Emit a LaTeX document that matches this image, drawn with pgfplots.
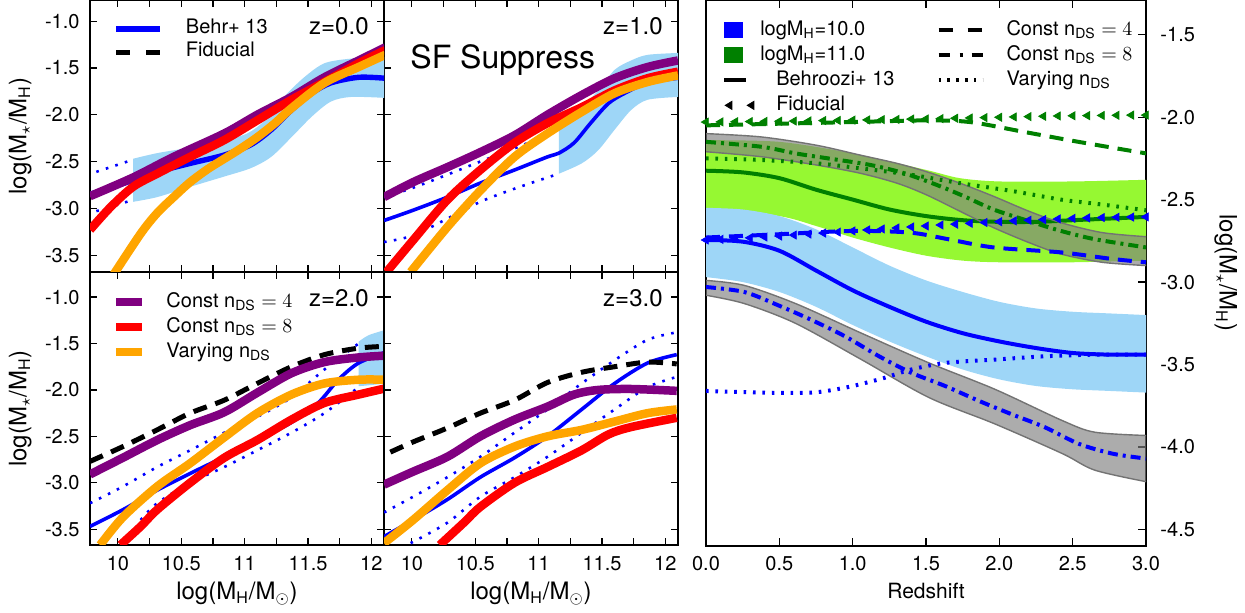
\documentclass[border=0pt]{standalone}
\usepackage{fontspec}
\setmainfont{TeX Gyre Heros}
\usepackage{pgfplots}
\pgfplotsset{compat=1.18}
\usepgfplotslibrary{fillbetween}

\definecolor{bandblue}{RGB}{158,214,247}
\definecolor{limeband}{RGB}{150,248,50}
\definecolor{mpurple}{RGB}{128,0,128}
\definecolor{morange}{RGB}{255,165,0}
\definecolor{mgreen}{RGB}{0,128,0}

\tikzset{zlab/.style={anchor=north east, inner sep=0pt, font=\fontsize{12}{14}\selectfont, xshift=-7.5pt, yshift=-8.5pt}}

\pgfplotsset{
  base/.style={scale only axis, axis line style={line width=1pt}, tick align=inside,
    tick style={black, line width=0.6pt}, major tick length=3.5pt,
    every tick label/.append style={font=\fontsize{10}{12}\selectfont},
    label style={font=\fontsize{12}{14}\selectfont}},
  lp/.style={base, width=147pt, xmin=9.78, xmax=12.1,
    xtick={10,10.25,...,12}, ytick={-3.5,-3,...,-1}, xtick pos=both, ytick pos=both,
    xticklabel style={yshift=-2.2pt}, yticklabel style={xshift=-1.7pt}},
  toprow/.style={height=136pt, ymin=-3.68, ymax=-0.774, xticklabels={}},
  botrow/.style={height=136.5pt, ymin=-3.67, ymax=-0.73,
    xticklabels={10,{},10.5,{},11,{},11.5,{},12},
    xlabel={log(M\textsubscript{H}/M$_\odot$)},
    xlabel style={at={(axis description cs:0.5,0)}, anchor=north, yshift=-18.5pt, inner sep=0pt}},
  lcol/.style={yticklabels={-3.5,-3.0,-2.5,-2.0,-1.5,-1.0},
    ylabel={log(M$_\star$/M\textsubscript{H})},
    ylabel style={at={(axis description cs:-0.197,0.5)}, anchor=south, inner sep=0pt}},
  rcol/.style={yticklabels={}},
  thick line/.style={line width=4.25pt, smooth, forget plot},
  bline/.style={blue, line width=1.8pt, smooth, forget plot},
  bdot/.style={blue, line width=1.3pt, dash pattern=on 1.3pt off 3.7pt, smooth, forget plot},
  fid/.style={black, line width=2.5pt, dash pattern=on 7pt off 4.5pt, smooth, forget plot},
  rdash/.style={line width=2pt, dash pattern=on 7pt off 4.5pt, smooth, forget plot},
  rdashdot/.style={line width=2pt, dash pattern=on 5pt off 2.5pt on 1.5pt off 2.5pt, smooth, forget plot},
  rdot/.style={line width=2pt, dash pattern=on 1.3pt off 3.4pt, smooth, forget plot},
}

\begin{document}
\begin{tikzpicture}

%%%%%%%%%%%%%%%% Panel z=0 %%%%%%%%%%%%%%%%
\begin{axis}[lp, toprow, lcol, at={(45pt,0pt)}, anchor=north west,
  legend style={at={(axis description cs:0.078,0.936)}, anchor=north west, draw=none, fill=none,
    inner sep=0pt, font=\fontsize{10}{12}\selectfont, row sep=0pt, column sep=11.5pt,
    nodes={inner sep=0pt, text height=8pt, text depth=3.5pt}},
  legend cell align=left,
  legend image code/.code={\draw[#1] (0pt,0pt) -- (22pt,0pt);}]
\addlegendimage{blue, line width=2.8pt}\addlegendentry{Behr+ 13}
\addlegendimage{black, line width=2.5pt, dash pattern=on 7pt off 8pt}\addlegendentry{Fiducial}
\addplot[name path=u0, draw=none, smooth, forget plot] coordinates {(10.12,-2.47) (10.31,-2.41) (10.57,-2.35) (10.84,-2.27) (11.02,-2.20) (11.16,-2.06) (11.31,-1.81) (11.47,-1.60) (11.63,-1.45) (11.84,-1.40) (12.11,-1.38)};
\addplot[name path=l0, draw=none, smooth, forget plot] coordinates {(10.12,-2.93) (10.31,-2.88) (10.57,-2.77) (10.84,-2.66) (11.05,-2.57) (11.21,-2.45) (11.37,-2.24) (11.53,-2.02) (11.68,-1.86) (11.84,-1.81) (12.11,-1.82)};
\addplot[bandblue, forget plot] fill between[of=u0 and l0];
\addplot[bline, line width=2.7pt] coordinates {(9.78,-2.85) (10.12,-2.70) (10.31,-2.61) (10.57,-2.52) (10.84,-2.43) (11.05,-2.32) (11.21,-2.16) (11.37,-1.95) (11.53,-1.77) (11.68,-1.66) (11.9,-1.60) (12.11,-1.61)};
\addplot[bdot] coordinates {(9.83,-2.61) (10.12,-2.48)};
\addplot[bdot] coordinates {(9.83,-3.03) (10.12,-2.91)};
\addplot[thick line, mpurple] coordinates {(9.78,-2.87) (10.12,-2.67) (10.44,-2.45) (10.84,-2.20) (11.10,-2.00) (11.37,-1.81) (11.63,-1.60) (11.90,-1.42) (12.11,-1.28)};
\addplot[thick line, red] coordinates {(9.78,-3.23) (9.94,-2.99) (10.12,-2.77) (10.31,-2.63) (10.57,-2.45) (10.84,-2.27) (11.10,-2.06) (11.37,-1.84) (11.63,-1.65) (11.90,-1.45) (12.11,-1.31)};
\addplot[thick line, morange] coordinates {(9.965,-3.71) (10.18,-3.27) (10.31,-3.05) (10.44,-2.88) (10.57,-2.72) (10.71,-2.58) (10.84,-2.47) (10.97,-2.36) (11.10,-2.24) (11.24,-2.09) (11.37,-1.93) (11.63,-1.66) (11.90,-1.49) (12.11,-1.36)};
\node[zlab] at (rel axis cs:1,1) {z=0.0};
\end{axis}

%%%%%%%%%%%%%%%% Panel z=1 %%%%%%%%%%%%%%%%
\begin{axis}[lp, toprow, rcol, at={(192pt,0pt)}, anchor=north west]
\addplot[name path=u1, draw=none, smooth, forget plot] coordinates {(11.16,-2.13) (11.34,-1.92) (11.47,-1.74) (11.6,-1.52) (11.73,-1.42) (11.86,-1.36) (12.1,-1.34)};
\addplot[name path=l1, draw=none, smooth, forget plot] coordinates {(11.16,-2.63) (11.34,-2.52) (11.47,-2.38) (11.6,-2.16) (11.73,-1.95) (11.86,-1.84) (12.1,-1.81)};
\addplot[bandblue, forget plot] fill between[of=u1 and l1];
\addplot[bline] coordinates {(9.78,-3.13) (10.01,-3.02) (10.28,-2.88) (10.54,-2.73) (10.81,-2.59) (11.07,-2.45) (11.16,-2.41) (11.28,-2.30) (11.41,-2.09) (11.55,-1.88) (11.68,-1.77) (11.86,-1.66) (12.1,-1.61)};
\addplot[bdot] coordinates {(9.78,-2.88) (10.01,-2.78) (10.28,-2.64) (10.54,-2.50) (10.81,-2.36) (11.16,-2.16)};
\addplot[bdot] coordinates {(9.78,-3.36) (10.01,-3.29) (10.28,-3.11) (10.54,-2.93) (10.81,-2.79) (11.16,-2.63)};
\addplot[thick line, mpurple] coordinates {(9.78,-2.88) (10.01,-2.72) (10.28,-2.56) (10.54,-2.40) (10.81,-2.22) (11.07,-2.0) (11.34,-1.79) (11.6,-1.61) (11.86,-1.49) (12.1,-1.42)};
\addplot[thick line, red] coordinates {(9.80,-3.68) (10.01,-3.34) (10.28,-2.91) (10.54,-2.59) (10.81,-2.30) (11.07,-2.09) (11.34,-1.92) (11.6,-1.74) (11.86,-1.61) (12.1,-1.54)};
\addplot[thick line, morange] coordinates {(9.99,-3.68) (10.28,-3.20) (10.54,-2.81) (10.81,-2.45) (11.07,-2.20) (11.34,-1.97) (11.6,-1.77) (11.86,-1.65) (12.1,-1.58)};
\node[zlab] at (rel axis cs:1,1) {z=1.0};
\node[anchor=north west, inner sep=0pt, font=\fontsize{16}{18}\selectfont, xshift=13pt, yshift=-22pt] at (rel axis cs:0,1) {SF Suppress};
\end{axis}

%%%%%%%%%%%%%%%% Panel z=2 %%%%%%%%%%%%%%%%
\begin{axis}[lp, botrow, lcol, at={(45pt,-136pt)}, anchor=north west,
  legend style={at={(axis description cs:0.075,0.937)}, anchor=north west, draw=none, fill=none,
    inner sep=0pt, font=\fontsize{10}{12}\selectfont, row sep=0pt, column sep=10pt,
    nodes={inner sep=0pt, text height=8.75pt, text depth=3.75pt}},
  legend cell align=left,
  legend image code/.code={\draw[#1] (0pt,0pt) -- (13pt,0pt);}]
\addlegendimage{mpurple, line width=4pt}\addlegendentry{Const n\textsubscript{DS} $=4$}
\addlegendimage{red, line width=4pt}\addlegendentry{Const n\textsubscript{DS} $=8$}
\addlegendimage{morange, line width=4pt}\addlegendentry{Varying n\textsubscript{DS}}
\addplot[name path=u2, draw=none, smooth, forget plot] coordinates {(11.90,-1.48) (11.98,-1.41) (12.12,-1.35)};
\addplot[name path=l2, draw=none, smooth, forget plot] coordinates {(11.90,-1.96) (11.98,-1.95) (12.12,-1.93)};
\addplot[bandblue, forget plot] fill between[of=u2 and l2];
\addplot[bline] coordinates {(9.78,-3.47) (10.04,-3.29) (10.31,-3.08) (10.57,-2.90) (10.84,-2.72) (11.10,-2.54) (11.37,-2.35) (11.58,-2.14) (11.74,-1.89) (11.90,-1.71) (12.12,-1.59)};
\addplot[bdot] coordinates {(9.78,-3.22) (10.04,-3.04) (10.31,-2.83) (10.57,-2.65) (10.84,-2.46) (11.10,-2.29) (11.37,-2.08) (11.63,-1.78) (11.90,-1.50)};
\addplot[bdot] coordinates {(10.18,-3.40) (10.31,-3.22) (10.57,-3.0) (10.84,-2.83) (11.10,-2.65) (11.37,-2.46) (11.63,-2.25) (11.90,-1.97)};
\addplot[fid] coordinates {(9.78,-2.77) (10.04,-2.61) (10.31,-2.43) (10.57,-2.25) (10.84,-2.11) (11.10,-1.93) (11.37,-1.75) (11.63,-1.62) (11.90,-1.55) (12.12,-1.53)};
\addplot[thick line, mpurple] coordinates {(9.78,-2.91) (10.04,-2.73) (10.31,-2.54) (10.57,-2.38) (10.84,-2.24) (11.10,-2.03) (11.37,-1.82) (11.63,-1.70) (11.90,-1.65) (12.12,-1.63)};
\addplot[thick line, red] coordinates {(10.02,-3.67) (10.18,-3.47) (10.31,-3.29) (10.57,-3.0) (10.84,-2.73) (11.10,-2.54) (11.37,-2.32) (11.63,-2.14) (11.90,-2.05) (12.12,-1.98)};
\addplot[thick line, morange] coordinates {(9.86,-3.67) (10.04,-3.37) (10.31,-3.04) (10.57,-2.79) (10.84,-2.51) (11.10,-2.25) (11.37,-2.05) (11.63,-1.93) (11.90,-1.89) (12.12,-1.89)};
\node[zlab] at (rel axis cs:1,1) {z=2.0};
\end{axis}

%%%%%%%%%%%%%%%% Panel z=3 %%%%%%%%%%%%%%%%
\begin{axis}[lp, botrow, rcol, at={(192pt,-136pt)}, anchor=north west]
\addplot[bline] coordinates {(9.78,-3.58) (10.01,-3.40) (10.28,-3.18) (10.54,-2.94) (10.81,-2.73) (11.07,-2.50) (11.34,-2.21) (11.6,-1.93) (11.86,-1.71) (12.09,-1.62)};
\addplot[bdot] coordinates {(9.78,-3.32) (10.01,-3.15) (10.28,-2.94) (10.54,-2.72) (10.81,-2.46) (11.07,-2.21) (11.34,-1.93) (11.6,-1.68) (11.86,-1.46) (12.09,-1.38)};
\addplot[bdot] coordinates {(9.99,-3.65) (10.28,-3.43) (10.54,-3.15) (10.81,-2.94) (11.07,-2.72) (11.34,-2.46) (11.6,-2.21) (11.86,-1.97) (12.09,-1.86)};
\addplot[fid] coordinates {(9.83,-2.67) (10.01,-2.56) (10.28,-2.41) (10.54,-2.25) (10.81,-2.11) (11.07,-1.92) (11.34,-1.81) (11.6,-1.75) (11.86,-1.70) (12.09,-1.72)};
\addplot[thick line, mpurple] coordinates {(9.78,-3.02) (10.01,-2.88) (10.28,-2.72) (10.54,-2.50) (10.81,-2.32) (11.07,-2.18) (11.28,-2.05) (11.47,-2.0) (11.73,-1.99) (12.09,-2.01)};
\addplot[thick line, red] coordinates {(10.22,-3.67) (10.41,-3.43) (10.54,-3.26) (10.81,-3.0) (11.07,-2.83) (11.34,-2.65) (11.55,-2.48) (11.73,-2.40) (12.09,-2.30)};
\addplot[thick line, morange] coordinates {(9.78,-3.65) (10.01,-3.40) (10.28,-3.08) (10.54,-2.79) (10.81,-2.61) (11.07,-2.50) (11.34,-2.43) (11.6,-2.34) (11.86,-2.25) (12.09,-2.21)};
\node[zlab] at (rel axis cs:1,1) {z=3.0};
\end{axis}

%%%%%%%%%%%%%%%% Right panel %%%%%%%%%%%%%%%%
\begin{axis}[base, at={(353pt,0pt)}, anchor=north west, width=220pt, height=273pt,
  xmin=0, xmax=3, ymin=-4.6, ymax=-1.29, major tick length=4pt,
  xtick={0,0.5,...,3}, xticklabels={0.0,0.5,1.0,1.5,2.0,2.5,3.0},
  ytick={-4.5,-4,...,-1.5}, yticklabels={-4.5,-4.0,-3.5,-3.0,-2.5,-2.0,-1.5},
  xtick pos=both, ytick pos=right, yticklabel pos=right,
  xticklabel style={yshift=-1.7pt}, yticklabel style={xshift=3.7pt},
  xlabel={Redshift}, xlabel style={font=\fontsize{10.5}{12}\selectfont, at={(axis description cs:0.5,0)}, anchor=north, yshift=-18.5pt, inner sep=0pt},
  ylabel={log(M$_\star$/M\textsubscript{H})}, ylabel style={rotate=180, at={(axis description cs:1.1545,0.5)}, anchor=south, inner sep=0pt},
  legend columns=2,
  legend style={at={(axis description cs:0.036,0.968)}, anchor=north west, draw=none, fill=none,
    inner sep=0pt, font=\fontsize{10}{12}\selectfont, row sep=0pt, column sep=11pt,
    nodes={inner sep=0pt, text height=8.75pt, text depth=3.75pt},
    /tikz/every even column/.append style={column sep=21pt}},
  legend cell align=left,
  legend image code/.code={\draw[#1] (0pt,0pt) -- (22pt,0pt);}]
\addlegendimage{legend image code/.code={\fill[blue] (0pt,-3.75pt) rectangle (9pt,3.75pt);}}
\addlegendentry{\hspace{-8pt}logM\textsubscript{H}=10.0}
\addlegendimage{black, line width=2pt, dash pattern=on 7pt off 7.5pt}
\addlegendentry{Const n\textsubscript{DS} $=4$}
\addlegendimage{legend image code/.code={\fill[mgreen] (0pt,-3.75pt) rectangle (9pt,3.75pt);}}
\addlegendentry{\hspace{-8pt}logM\textsubscript{H}=11.0}
\addlegendimage{black, line width=2pt, dash pattern=on 5.5pt off 5pt on 1.5pt off 4.5pt}
\addlegendentry{Const n\textsubscript{DS} $=8$}
\addlegendimage{legend image code/.code={\draw[black, line width=2pt] (0pt,0pt) -- (11pt,0pt);}}
\addlegendentry{Behroozi+ 13}
\addlegendimage{black, line width=2pt, dash pattern=on 1.3pt off 3.1pt}
\addlegendentry{Varying n\textsubscript{DS}}
\addlegendimage{legend image code/.code={\fill[black] (0.5pt,0pt) -- (3.8pt,2pt) -- (3.8pt,-2pt) -- cycle; \fill[black] (11.5pt,0pt) -- (14.8pt,2pt) -- (14.8pt,-2pt) -- cycle;}}
\addlegendentry{Fiducial}
% green band
\addplot[name path=gu, draw=none, smooth, forget plot] coordinates {(0,-2.14) (0.5,-2.15) (1.0,-2.22) (1.5,-2.32) (1.73,-2.37) (2.0,-2.39) (2.5,-2.39) (3.0,-2.38)};
\addplot[name path=gl, draw=none, smooth, forget plot] coordinates {(0,-2.55) (0.5,-2.60) (0.75,-2.66) (1.0,-2.73) (1.25,-2.79) (1.5,-2.84) (1.75,-2.87) (2.0,-2.88) (2.5,-2.88) (3.0,-2.87)};
\addplot[limeband, forget plot] fill between[of=gu and gl];
% blue band
\addplot[name path=bu, draw=none, smooth, forget plot] coordinates {(0,-2.55) (0.25,-2.56) (0.5,-2.60) (0.75,-2.68) (1.0,-2.79) (1.25,-2.90) (1.5,-2.99) (1.75,-3.06) (2.0,-3.12) (2.25,-3.16) (2.5,-3.18) (2.75,-3.19) (3.0,-3.20)};
\addplot[name path=bl, draw=none, smooth, forget plot] coordinates {(0,-2.97) (0.25,-3.0) (0.5,-3.06) (0.75,-3.15) (1.0,-3.26) (1.25,-3.36) (1.5,-3.45) (1.75,-3.53) (2.0,-3.59) (2.25,-3.63) (2.5,-3.65) (2.75,-3.66) (3.0,-3.67)};
\addplot[bandblue, forget plot] fill between[of=bu and bl];
% Behroozi lines
\addplot[mgreen, line width=2pt, smooth, forget plot] coordinates {(0,-2.325) (0.25,-2.335) (0.5,-2.37) (0.75,-2.44) (1.0,-2.50) (1.25,-2.56) (1.5,-2.60) (1.75,-2.625) (2.0,-2.635) (2.25,-2.635) (2.5,-2.625) (2.75,-2.615) (3.0,-2.605)};
\addplot[blue, line width=2pt, smooth, forget plot] coordinates {(0,-2.745) (0.25,-2.755) (0.5,-2.81) (0.75,-2.93) (1.0,-3.05) (1.25,-3.15) (1.5,-3.24) (1.75,-3.31) (2.0,-3.36) (2.25,-3.40) (2.5,-3.43) (2.75,-3.44) (3.0,-3.44)};
% gray bands
\addplot[name path=hu, draw=black!55, line width=0.7pt, smooth, forget plot] coordinates {(0,-2.10) (0.375,-2.12) (0.75,-2.17) (1.05,-2.23) (1.3,-2.28) (1.5,-2.33) (1.73,-2.40) (1.96,-2.48) (2.2,-2.57) (2.42,-2.64) (2.7,-2.70) (3.0,-2.725)};
\addplot[name path=hl, draw=black!55, line width=0.7pt, smooth, forget plot] coordinates {(0,-2.21) (0.375,-2.24) (0.75,-2.29) (1.05,-2.34) (1.3,-2.40) (1.5,-2.47) (1.73,-2.57) (1.96,-2.67) (2.2,-2.76) (2.42,-2.83) (2.7,-2.88) (3.0,-2.90)};
\addplot[fill=black!50, fill opacity=0.65, forget plot] fill between[of=hu and hl];
\addplot[name path=ku, draw=black!55, line width=0.7pt, smooth, forget plot] coordinates {(0,-2.99) (0.26,-3.02) (0.61,-3.13) (1.06,-3.31) (1.52,-3.49) (1.97,-3.65) (2.43,-3.84) (2.65,-3.91) (3.0,-3.93)};
\addplot[name path=kl, draw=black!55, line width=0.7pt, smooth, forget plot] coordinates {(0,-3.08) (0.26,-3.13) (0.61,-3.25) (1.06,-3.47) (1.52,-3.70) (1.97,-3.86) (2.43,-4.04) (2.65,-4.14) (3.0,-4.21)};
\addplot[fill=black!50, fill opacity=0.65, forget plot] fill between[of=ku and kl];
% const 8
\addplot[rdashdot, mgreen] coordinates {(0,-2.15) (0.38,-2.18) (0.61,-2.22) (0.83,-2.25) (1.12,-2.29) (1.35,-2.34) (1.57,-2.41) (1.76,-2.48) (1.96,-2.56) (2.2,-2.63) (2.42,-2.69) (2.65,-2.74) (3.0,-2.79)};
\addplot[rdashdot, blue] coordinates {(0,-3.03) (0.26,-3.06) (0.49,-3.14) (0.72,-3.23) (0.95,-3.33) (1.18,-3.45) (1.4,-3.55) (1.63,-3.63) (1.86,-3.72) (2.08,-3.80) (2.31,-3.88) (2.54,-3.98) (2.77,-4.04) (3.0,-4.07)};
% const 4
\addplot[rdash, mgreen] coordinates {(0,-2.05) (0.5,-2.04) (1.0,-2.03) (1.5,-2.02) (1.8,-2.03) (2.17,-2.09) (2.54,-2.15) (3.0,-2.22)};
\addplot[rdash, blue] coordinates {(0,-2.73) (0.5,-2.71) (1.0,-2.69) (1.39,-2.70) (1.65,-2.74) (1.96,-2.79) (2.42,-2.82) (2.77,-2.86) (3.0,-2.88)};
% varying
\addplot[rdot, mgreen] coordinates {(0,-2.25) (0.38,-2.26) (0.75,-2.28) (1.05,-2.31) (1.4,-2.35) (1.73,-2.40) (2.1,-2.45) (2.42,-2.50) (2.7,-2.53) (3.0,-2.565)};
\addplot[rdot, blue] coordinates {(0,-3.66) (0.38,-3.67) (0.72,-3.67) (0.95,-3.64) (1.18,-3.59) (1.29,-3.56) (1.4,-3.53) (1.63,-3.49) (1.97,-3.47) (2.31,-3.45) (2.65,-3.44) (3.0,-3.44)};
% fiducial
\addplot[only marks, mark=triangle*, mark size=2.3pt, mark options={rotate=90, fill=mgreen, draw=mgreen}, forget plot] coordinates {(0,-2.030) (0.1,-2.029) (0.2,-2.028) (0.3,-2.027) (0.4,-2.026) (0.5,-2.025) (0.6,-2.024) (0.7,-2.023) (0.8,-2.021) (0.9,-2.020) (1.0,-2.018) (1.1,-2.017) (1.2,-2.015) (1.3,-2.014) (1.4,-2.012) (1.5,-2.011) (1.6,-2.009) (1.7,-2.007) (1.8,-2.005) (1.9,-2.003) (2.0,-2.001) (2.1,-1.999) (2.2,-1.997) (2.3,-1.995) (2.4,-1.993) (2.5,-1.992) (2.6,-1.991) (2.7,-1.990) (2.8,-1.989) (2.9,-1.988) (3.0,-1.988)};
\addplot[only marks, mark=triangle*, mark size=2.3pt, mark options={rotate=90, fill=blue, draw=blue}, forget plot] coordinates {(0,-2.745) (0.1,-2.741) (0.2,-2.737) (0.3,-2.732) (0.4,-2.727) (0.5,-2.721) (0.6,-2.715) (0.7,-2.709) (0.8,-2.703) (0.9,-2.697) (1.0,-2.690) (1.1,-2.684) (1.2,-2.678) (1.3,-2.672) (1.4,-2.666) (1.5,-2.660) (1.6,-2.654) (1.7,-2.649) (1.8,-2.644) (1.9,-2.639) (2.0,-2.634) (2.1,-2.629) (2.2,-2.625) (2.3,-2.621) (2.4,-2.617) (2.5,-2.614) (2.6,-2.611) (2.7,-2.609) (2.8,-2.607) (2.9,-2.606) (3.0,-2.605)};
\end{axis}
\pgfresetboundingbox
\path[use as bounding box] (0,0) rectangle (622.5pt,-306.5pt);
\end{tikzpicture}
\end{document}
